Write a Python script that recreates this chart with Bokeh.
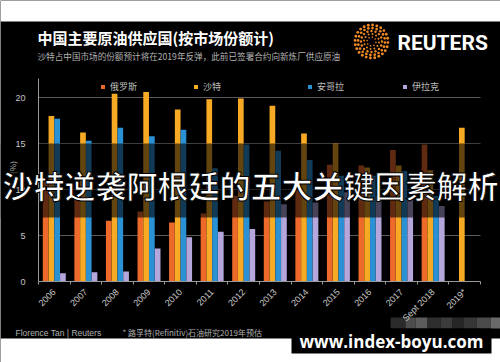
from math import pi
import numpy as np
from bokeh.plotting import figure
from bokeh.models import (Range1d, FixedTicker, Label, Legend, LegendItem, ColumnDataSource)
from bokeh.transform import dodge
from bokeh.embed import file_html
from bokeh.resources import INLINE

nan = float("nan")
years = ["2006", "2007", "2008", "2009", "2010", "2011", "2012", "2013",
         "2014", "2015", "2016", "2017", "Sept 2018", "2019*"]
russia = [11.0, 8.9, 6.6, 7.6, 6.4, 7.4, 9.3, 8.7, 10.7, 12.7, 12.6, 14.3, 14.9, nan]
saudi = [18.0, 16.2, 20.4, 20.6, 18.7, 19.8, 19.9, 19.1, 16.1, 15.0, 12.4, 12.6, 12.1, 16.7]
angola = [17.7, 15.3, 16.7, 15.8, 16.5, 12.3, 14.9, 14.2, 13.2, 11.5, 11.5, 12.0, 9.3, nan]
iraq = [0.9, 1.0, 1.1, 3.6, 4.8, 5.4, 5.7, 8.4, 8.6, 9.7, 9.3, 8.9, 8.2, nan]
series_names = ["俄罗斯", "沙特", "安哥拉", "伊拉克"]
y_ticks = [0, 5, 10, 15, 20]

title_text = "中国主要原油供应国(按市场份额计)"
subtitle_text = "沙特占中国市场的份额预计将在2019年反弹，此前已签署合约向新炼厂供应原油"
source_text = "Florence Tan | Reuters"
note_text = "* 路孚特(Refinitiv)石油研究2019年预估"
overlay_text = "沙特逆袭阿根廷的五大关键因素解析"
watermark_text = "www.index-boyu.com"

colors = ["#ee6a2a", "#f9aa24", "#2a92d4", "#b5a6dc"]
CJK = "Noto Sans CJK SC"

# page layout of the plotting area (pixels): left 38, right 480, zero line 281
CW = 442 / len(years)      # px per category
PY = 9.2                   # px per percentage point

xpos = [i + 0.5 for i in range(len(years))]
xbounds = [float(i) for i in range(len(years) + 1)]
src = ColumnDataSource(dict(x=xpos, year=years, russia=russia, saudi=saudi,
                            angola=angola, iraq=iraq))

p = figure(width=500, height=362,
           x_range=Range1d(-38 / CW, len(years) + 20 / CW),
           y_range=Range1d(-81 / PY, 281 / PY),
           output_backend="svg", toolbar_location=None, min_border=0,
           background_fill_color="black", border_fill_color="black",
           outline_line_color=None)
# page-pixel helper ranges (for decorations)
p.extra_x_ranges = {"px": Range1d(0, 500)}
p.extra_y_ranges = {"py": Range1d(362, 0)}

# white strips above and below the dark chart panel
p.quad(left=[0, 0], right=[500, 500], top=[0, 338], bottom=[21, 362],
       x_range_name="px", y_range_name="py", fill_color="white", line_color=None)

offsets = [-0.274, -0.091, 0.091, 0.274]
renderers = []
for key, off, col in zip(["russia", "saudi", "angola", "iraq"], offsets, colors):
    r = p.vbar(x=dodge("x", off), top=key, bottom=0, width=0.18,
               source=src, fill_color=col, line_color=None)
    renderers.append(r)

# axes drawn at fixed positions inside the full-canvas frame
p.yaxis.fixed_location = 0
p.yaxis.bounds = (0, 22.07)
p.yaxis.ticker = FixedTicker(ticks=y_ticks)
p.yaxis.axis_line_color = "#9a9a9a"
p.yaxis.major_tick_line_color = None
p.yaxis.minor_tick_line_color = None
p.yaxis.major_label_text_color = "#c4c4c4"
p.yaxis.major_label_text_font = "Liberation Sans"
p.yaxis.major_label_text_font_size = "9px"
p.yaxis.major_label_standoff = 7

p.xaxis.fixed_location = 0
p.xaxis.bounds = (0, len(years))
p.xaxis.ticker = FixedTicker(ticks=xpos, minor_ticks=xbounds)
p.xaxis.major_label_overrides = {x: y for x, y in zip(xpos, years)}
p.xaxis.axis_line_color = "#9a9a9a"
p.xaxis.major_tick_line_color = None
p.xaxis.minor_tick_line_color = "#9a9a9a"
p.xaxis.minor_tick_in = 0
p.xaxis.minor_tick_out = 3
p.xaxis.major_label_orientation = pi / 4
p.xaxis.major_label_text_color = "#c8c8c8"
p.xaxis.major_label_text_font = "Liberation Sans"
p.xaxis.major_label_text_font_size = "9px"
p.xaxis.major_label_standoff = 3

p.ygrid.ticker = FixedTicker(ticks=[5, 10, 15, 20])
p.ygrid.grid_line_color = "#5a5a5a"
p.ygrid.cross_bounds = (0, len(years))
p.xgrid.grid_line_color = None

# Reuters logo dots
lx, ly, sizes = [], [], []
for rad, n, s in [(4.5, 8, 1.6), (7.5, 12, 2.0), (10.5, 16, 2.4), (13.5, 20, 2.7), (16.5, 24, 2.9)]:
    for k in range(n):
        a = 2 * pi * k / n + (0.5 * pi / n if n % 16 else 0)
        lx.append(371 + rad * np.cos(a))
        ly.append(41 + rad * np.sin(a))
        sizes.append(s)
p.scatter(x=lx, y=ly, size=sizes, x_range_name="px", y_range_name="py",
          fill_color="#f08a24", line_color=None)

# mosaic blocks near the bottom right
mx = [390, 405, 415, 427, 440, 452, 463, 476, 490]
mc = ["#2a2a2a", "#4d4d4d", "#5c5c5c", "#2e2e2e", "#3c3c3c", "#262626", "#363636",
      "#4a4a4a", "#6a6a6a"]
p.quad(left=mx, right=mx[1:] + [500], top=[317] * 9, bottom=[328] * 9, fill_color=mc,
       line_color=None, x_range_name="px", y_range_name="py")

# translucent band behind the big headline
p.quad(left=[0], right=[500], top=[143], bottom=[217], fill_color="black", fill_alpha=0.6,
       line_color=None, x_range_name="px", y_range_name="py")

# watermark box
p.quad(left=[291], right=[491], top=[328], bottom=[353], fill_color="black",
       line_color=None, x_range_name="px", y_range_name="py")

# legends (one per series so each sits where the reference puts it)
for r, name, lx0 in zip(renderers, series_names, [100, 193, 307, 402]):
    lg = Legend(items=[LegendItem(label=name, renderers=[r])], location=(lx0, 269),
                orientation="horizontal", padding=0, margin=0, spacing=0,
                glyph_width=5, glyph_height=5, label_standoff=5,
                label_text_font=CJK, label_text_font_size="9px", label_text_color="#bdbdbd",
                background_fill_alpha=0, border_line_alpha=0, label_height=10)
    p.add_layout(lg)


def lab(x, y, text, size, color, font=CJK, bold=False, align="left", baseline="middle", **kw):
    l = Label(x=x, y=y, x_range_name="px", y_range_name="py", text=text,
              text_font=font, text_font_size=size, text_color=color,
              text_font_style="bold" if bold else "normal",
              text_align=align, text_baseline=baseline, **kw)
    p.add_layout(l)
    return l


lab(37, 37, title_text, "15px", "white", bold=True)
lab(37, 55, subtitle_text, "8.6px", "#b0b0b0")
lab(397, 42, "REUTERS", "21px", "white", font="Roboto", bold=True)
lab(12, 167, "(%)", "8px", "#b0b0b0", align="center", angle=pi / 2)
lab(15, 332, source_text, "8.5px", "#b0b0b0", font="Liberation Sans")
lab(122, 332, note_text, "8px", "#b0b0b0")
lab(250, 184, overlay_text, "31px", "white", bold=True, align="center",
    text_outline_color="black")
lab(391, 340.5, watermark_text, "17px", "white", font="Open Sans", bold=True, align="center")

open("out.html", "w").write(file_html(p, INLINE))
